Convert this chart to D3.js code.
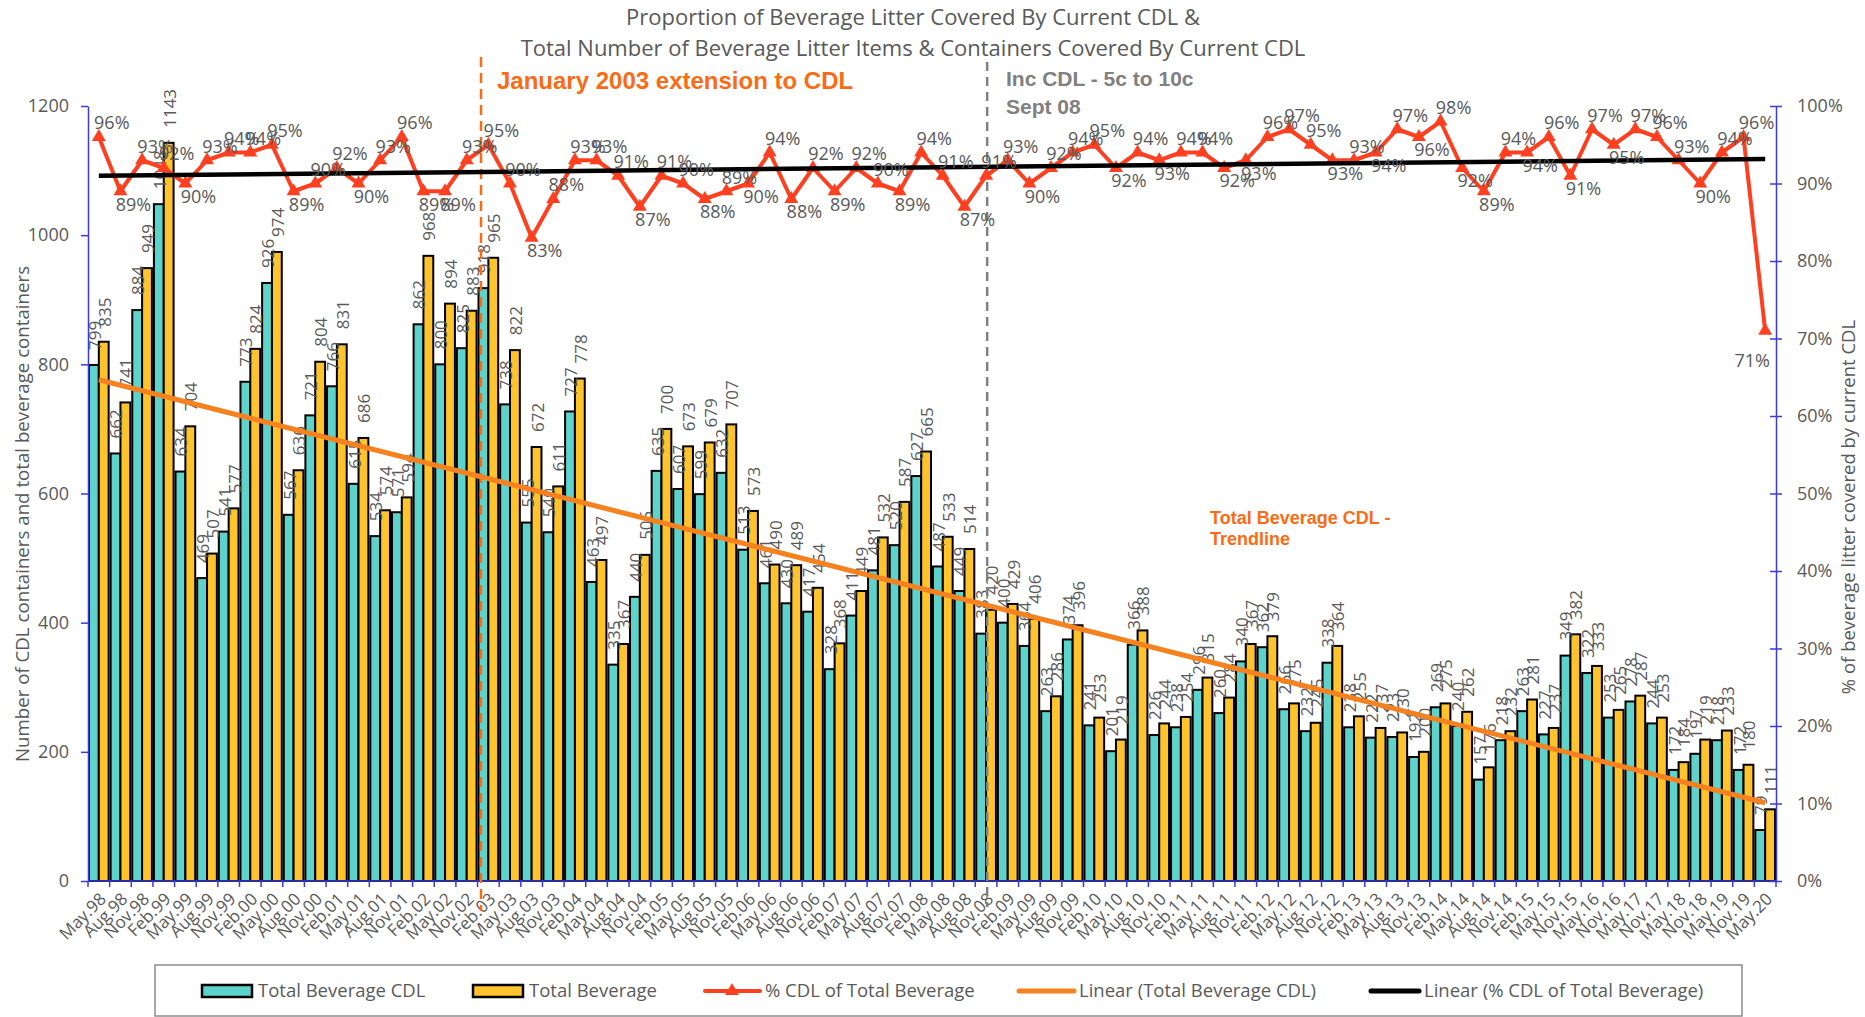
<!DOCTYPE html>
<html>
<head>
<meta charset="utf-8">
<script src="https://cdn.jsdelivr.net/npm/d3@7"></script>
<style>
  body { margin: 0; background: #fff; }
  svg text { font-family: "Open Sans", sans-serif; fill: #595959; }
</style>
</head>
<body>
<div id="chart"></div>
<script>
// survey periods
var categories = ["May.98","Aug.98","Nov.98","Feb.99","May.99","Aug.99","Nov.99","Feb.00","May.00","Aug.00",
  "Nov.00","Feb.01","May.01","Aug.01","Nov.01","Feb.02","May.02","Nov.02","Feb.03","May.03",
  "Aug.03","Nov.03","Feb.04","May.04","Aug.04","Nov.04","Feb.05","May.05","Aug.05","Nov.05",
  "Feb.06","May.06","Aug.06","Nov.06","Feb.07","May.07","Aug.07","Nov.07","Feb.08","May.08",
  "Aug.08","Nov.08","Feb.09","May.09","Aug.09","Nov.09","Feb.10","May.10","Aug.10","Nov.10",
  "Feb.11","May.11","Aug.11","Nov.11","Feb.12","May.12","Aug.12","Nov.12","Feb.13","May.13",
  "Aug.13","Nov.13","Feb.14","May.14","Aug.14","Nov.14","Feb.15","May.15","Nov.15","May.16",
  "Nov.16","May.17","Nov.17","May.18","Nov.18","May.19","Nov.19","May.20"];

var cdlTotal = [799,662,884,1048,634,469,541,773,926,567,
  721,766,615,534,571,862,800,825,918,738,
  555,540,727,463,335,440,635,607,599,632,
  513,461,430,417,328,411,481,520,627,487,
  449,383,400,364,263,374,241,201,366,226,
  238,296,260,340,362,266,232,338,238,222,
  223,192,269,240,157,218,263,227,349,322,
  253,278,244,172,197,218,172,79];

var bevTotal = [835,741,949,1143,704,507,577,824,974,636,
  804,831,686,574,594,968,894,883,965,822,
  672,611,778,497,367,505,700,673,679,707,
  573,490,489,454,368,449,532,587,665,533,
  514,420,429,406,286,396,253,219,388,244,
  254,315,284,367,379,275,245,364,255,237,
  230,200,275,262,176,232,281,237,382,333,
  265,287,253,184,219,233,180,111];

var pctCdl = [96,89,93,92,90,93,94,94,95,89,
  90,92,90,93,96,89,89,93,95,90,
  83,88,93,93,91,87,91,90,88,89,
  90,94,88,92,89,92,90,89,94,91,
  87,91,93,90,92,94,95,92,94,93,
  94,94,92,93,96,97,95,93,93,94,
  97,96,98,92,89,94,94,96,91,97,
  95,97,96,93,90,94,96,71];

var leftTicks = [0,200,400,600,800,1000,1200];
var rightTicks = [0,0.1,0.2,0.3,0.4,0.5,0.6,0.7,0.8,0.9,1];

var titleLines = ["Proportion of Beverage Litter Covered By Current CDL &",
  "Total Number of Beverage Litter Items & Containers Covered By Current CDL"];
var legendNames = ["Total Beverage CDL","Total Beverage","% CDL of Total Beverage",
  "Linear (Total Beverage CDL)","Linear (% CDL of Total Beverage)"];

var cyan = "#5dd3cc", gold = "#ffc32e", red = "#ff4020", trendOrange = "#f5821f",
    noteOrange = "#fa6b14", axisBlue = "#3b3bd8";

var svg = d3.select("#chart").append("svg")
    .attr("width", 1865)
    .attr("height", 1017);

var x = d3.scaleBand().domain(categories).range([88, 1776]);
var y = d3.scaleLinear().domain([0, 1200]).range([881, 106]);
var y2 = d3.scaleLinear().domain([0, 1]).range([881, 106]);

var bw = x.bandwidth();
var barW = bw / 2.2;
var gap = bw - 2 * barW;
function cx(i) { return x(categories[i]) + bw / 2; }

// title
svg.selectAll("text.title")
    .data(titleLines)
    .enter().append("text")
    .attr("class", "title")
    .attr("x", 913)
    .attr("y", function(d, i) { return 25 + i * 31; })
    .attr("text-anchor", "middle")
    .style("font-size", "22px")
    .text(function(d) { return d; });

// bars
var g = svg.append("g");
g.selectAll("rect.cdl")
    .data(cdlTotal)
    .enter().append("rect")
    .attr("class", "cdl")
    .attr("x", function(d, i) { return x(categories[i]) + gap / 2; })
    .attr("y", function(d) { return y(d); })
    .attr("width", barW)
    .attr("height", function(d) { return y(0) - y(d); })
    .attr("fill", cyan)
    .attr("stroke", "#000")
    .attr("stroke-width", 2);

g.selectAll("rect.bev")
    .data(bevTotal)
    .enter().append("rect")
    .attr("class", "bev")
    .attr("x", function(d, i) { return x(categories[i]) + gap / 2 + barW; })
    .attr("y", function(d) { return y(d); })
    .attr("width", barW)
    .attr("height", function(d) { return y(0) - y(d); })
    .attr("fill", gold)
    .attr("stroke", "#000")
    .attr("stroke-width", 2);

// bar value labels
function barLabels(data, cls, shift) {
  g.selectAll("text." + cls)
      .data(data)
      .enter().append("text")
      .attr("class", cls)
      .attr("transform", function(d, i) {
        var bx = x(categories[i]) + gap / 2 + shift + barW / 2 + 1;
        return "translate(" + bx + "," + (y(d) - 15) + ") rotate(-90)";
      })
      .attr("dy", "0.35em")
      .style("font-size", "17px")
      .text(function(d) { return d; });
}
barLabels(cdlTotal, "lab1", 0);
barLabels(bevTotal, "lab2", barW);

// axes
var yAxis = svg.append("g")
    .attr("transform", "translate(88,0)")
    .call(d3.axisLeft(y).tickValues(leftTicks).tickFormat(d3.format("d"))
      .tickSize(7).tickSizeOuter(0).tickPadding(12));
var y2Axis = svg.append("g")
    .attr("transform", "translate(1776,0)")
    .call(d3.axisRight(y2).tickValues(rightTicks).tickFormat(d3.format(".0%"))
      .tickSize(6).tickSizeOuter(0).tickPadding(15));
y2Axis.selectAll(".tick line").attr("x1", -6);
[yAxis, y2Axis].forEach(function(a) {
  a.selectAll("path, line").attr("stroke", axisBlue).attr("stroke-width", 1.5);
  a.selectAll("text").style("font-size", "18px").attr("fill", "#595959");
});

svg.append("line")
    .attr("x1", 88).attr("x2", 1776)
    .attr("y1", y(0)).attr("y2", y(0))
    .attr("stroke", axisBlue).attr("stroke-width", 1.5);
svg.selectAll("line.xtick")
    .data(categories.concat(["end"]))
    .enter().append("line")
    .attr("class", "xtick")
    .attr("x1", function(d, i) { return 88 + i * bw; })
    .attr("x2", function(d, i) { return 88 + i * bw; })
    .attr("y1", y(0)).attr("y2", y(0) + 6)
    .attr("stroke", axisBlue).attr("stroke-width", 1.5);

svg.selectAll("text.xlab")
    .data(categories)
    .enter().append("text")
    .attr("class", "xlab")
    .attr("transform", function(d, i) {
      return "translate(" + (cx(i) + 4) + "," + 896 + ") rotate(-45)";
    })
    .attr("text-anchor", "end")
    .attr("dy", "0.35em")
    .style("font-size", "17px")
    .text(function(d) { return d; });

svg.append("text")
    .attr("transform", "translate(22,514) rotate(-90)")
    .attr("text-anchor", "middle")
    .attr("dy", "0.35em")
    .style("font-size", "18.7px")
    .text("Number of CDL containers and total beverage containers");
svg.append("text")
    .attr("transform", "translate(1849,507) rotate(-90)")
    .attr("text-anchor", "middle")
    .attr("dy", "0.35em")
    .style("font-size", "18.5px")
    .text("% of beverage litter covered by current CDL");

// event markers
function eventLine(cat, off, top, bottom, color, dash) {
  var ex = x(cat) + bw * off;
  svg.append("line")
      .attr("x1", ex).attr("x2", ex)
      .attr("y1", top).attr("y2", bottom)
      .attr("stroke", color)
      .attr("stroke-width", 2.5)
      .attr("stroke-dasharray", dash);
}
eventLine("Feb.03", 0.16, 57, 911, noteOrange, "10,6");
eventLine("Nov.08", 0.55, 62, 907, "#808080", "9,6");

svg.append("text")
    .attr("x", 497).attr("y", 89)
    .style("font-family", "'Liberation Sans', Arial, sans-serif")
    .style("font-size", "24px").style("font-weight", "bold")
    .style("fill", noteOrange)
    .text("January 2003 extension to CDL");
svg.selectAll("text.cdlnote")
    .data(["Inc CDL - 5c to 10c", "Sept 08"])
    .enter().append("text")
    .attr("class", "cdlnote")
    .attr("x", 1006)
    .attr("y", function(d, i) { return 86 + i * 28; })
    .style("font-family", "'Liberation Sans', Arial, sans-serif")
    .style("font-size", "21px").style("font-weight", "bold")
    .style("fill", "#808080")
    .text(function(d) { return d; });
svg.selectAll("text.trendnote")
    .data(["Total Beverage CDL -", "Trendline"])
    .enter().append("text")
    .attr("class", "trendnote")
    .attr("x", 1210)
    .attr("y", function(d, i) { return 524 + i * 21; })
    .style("font-family", "'Liberation Sans', Arial, sans-serif")
    .style("font-size", "18px").style("font-weight", "bold")
    .style("fill", noteOrange)
    .text(function(d) { return d; });

// linear trendlines (least squares, x = 1..n like the spreadsheet)
function linFit(vals) {
  var n = vals.length, sx = 0, sy = 0, sxy = 0, sxx = 0;
  vals.forEach(function(v, i) { var k = i + 1; sx += k; sy += v; sxy += k * v; sxx += k * k; });
  var m = (n * sxy - sx * sy) / (n * sxx - sx * sx);
  var b = (sy - m * sx) / n;
  return function(i) { return m * (i + 1) + b; };
}
var fitCdl = linFit(cdlTotal);
var fitPct = linFit(pctCdl);
var last = categories.length - 1;

svg.append("line")
    .attr("x1", cx(0)).attr("y1", y(fitCdl(0)))
    .attr("x2", cx(last)).attr("y2", y(fitCdl(last)))
    .attr("stroke", trendOrange).attr("stroke-width", 5);

// % CDL line
var line = d3.line()
    .x(function(d, i) { return cx(i); })
    .y(function(d) { return y2(d / 100); });
svg.append("path")
    .datum(pctCdl)
    .attr("d", line)
    .attr("fill", "none")
    .attr("stroke", red)
    .attr("stroke-width", 4)
    .attr("stroke-linejoin", "round");
svg.selectAll("path.tri")
    .data(pctCdl)
    .enter().append("path")
    .attr("class", "tri")
    .attr("d", d3.symbol(d3.symbolTriangle).size(85))
    .attr("transform", function(d, i) { return "translate(" + cx(i) + "," + y2(d / 100) + ")"; })
    .attr("fill", red);

svg.append("line")
    .attr("x1", cx(0)).attr("y1", y2(fitPct(0) / 100))
    .attr("x2", cx(last)).attr("y2", y2(fitPct(last) / 100))
    .attr("stroke", "#000").attr("stroke-width", 4.5);

// % labels: above peaks, below dips
svg.selectAll("text.pct")
    .data(pctCdl)
    .enter().append("text")
    .attr("class", "pct")
    .attr("x", function(d, i) { return i === last ? cx(i) - 13 : cx(i) + 13; })
    .attr("y", function(d, i) {
      if (i === last) return y2(d / 100) + 30;
      var a = pctCdl[Math.max(i - 1, 0)], b = pctCdl[i + 1];
      if (i === 0) a = b;
      var up = d >= (a + b) / 2 - 0.6;
      return y2(d / 100) + (up ? -14 : 13);
    })
    .attr("dy", "0.35em")
    .attr("text-anchor", "middle")
    .style("font-size", "18px")
    .text(function(d) { return d + "%"; });

// legend
var lg = svg.append("g");
lg.append("rect")
    .attr("x", 155).attr("y", 965)
    .attr("width", 1587).attr("height", 51)
    .attr("fill", "none").attr("stroke", "#8c8c8c").attr("stroke-width", 1.5);
var lgX = [202, 473, 705, 1019, 1371];
var lgY = 991;
lg.append("rect").attr("x", lgX[0]).attr("y", lgY - 6).attr("width", 50).attr("height", 12)
    .attr("fill", cyan).attr("stroke", "#000").attr("stroke-width", 2.5);
lg.append("rect").attr("x", lgX[1]).attr("y", lgY - 6).attr("width", 50).attr("height", 12)
    .attr("fill", gold).attr("stroke", "#000").attr("stroke-width", 2.5);
lg.append("line").attr("x1", lgX[2]).attr("x2", lgX[2] + 55).attr("y1", lgY).attr("y2", lgY)
    .attr("stroke", red).attr("stroke-width", 4).attr("stroke-linecap", "round");
lg.append("path").attr("d", d3.symbol(d3.symbolTriangle).size(85))
    .attr("transform", "translate(" + (lgX[2] + 27) + "," + lgY + ")").attr("fill", red);
lg.append("line").attr("x1", lgX[3]).attr("x2", lgX[3] + 55).attr("y1", lgY).attr("y2", lgY)
    .attr("stroke", trendOrange).attr("stroke-width", 5).attr("stroke-linecap", "round");
lg.append("line").attr("x1", lgX[4]).attr("x2", lgX[4] + 48).attr("y1", lgY).attr("y2", lgY)
    .attr("stroke", "#000").attr("stroke-width", 5).attr("stroke-linecap", "round");
lg.selectAll("text")
    .data(legendNames)
    .enter().append("text")
    .attr("x", function(d, i) { return lgX[i] + (i < 2 ? 56 : (i === 4 ? 53 : 60)); })
    .attr("y", lgY)
    .attr("dy", "0.35em")
    .style("font-size", "18.5px")
    .text(function(d) { return d; });
</script>
</body>
</html>
